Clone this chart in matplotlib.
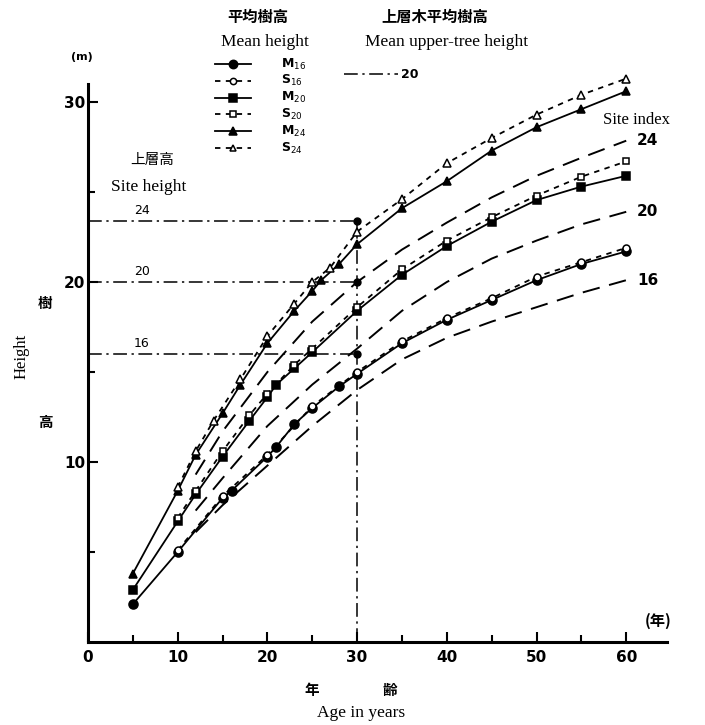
import matplotlib
matplotlib.use("Agg")
import matplotlib.pyplot as plt
from matplotlib.lines import Line2D

# mean height, M = measured, S = simulated (site 16 / 20 / 24)
m16_age = [5, 10, 15, 16, 20, 21, 23, 25, 28, 30, 35, 40, 45, 50, 55, 60]
m16_h = [2.1, 5.0, 8.0, 8.4, 10.3, 10.85, 12.1, 13.0, 14.2, 14.9, 16.6, 17.9, 19.0, 20.1, 21.0, 21.7]
s16_age = [10, 15, 20, 25, 30, 35, 40, 45, 50, 55, 60]
s16_h = [5.1, 8.1, 10.4, 13.1, 15.0, 16.7, 18.0, 19.1, 20.3, 21.1, 21.9]

m20_age = [5, 10, 12, 15, 18, 20, 21, 23, 25, 30, 35, 40, 45, 50, 55, 60]
m20_h = [2.9, 6.7, 8.2, 10.3, 12.3, 13.6, 14.3, 15.2, 16.1, 18.4, 20.4, 22.0, 23.35, 24.55, 25.3, 25.9]
s20_age = [10, 12, 15, 18, 20, 23, 25, 30, 35, 40, 45, 50, 55, 60]
s20_h = [6.9, 8.4, 10.6, 12.6, 13.8, 15.4, 16.3, 18.6, 20.7, 22.3, 23.6, 24.8, 25.85, 26.7]

m24_age = [5, 10, 12, 15, 17, 20, 23, 25, 26, 28, 30, 35, 40, 45, 50, 55, 60]
m24_h = [3.8, 8.4, 10.4, 12.7, 14.3, 16.6, 18.4, 19.5, 20.1, 21.0, 22.1, 24.1, 25.6, 27.3, 28.6, 29.6, 30.6]
s24_age = [10, 12, 14, 17, 20, 23, 25, 27, 30, 35, 40, 45, 50, 55, 60]
s24_h = [8.6, 10.6, 12.3, 14.6, 17.0, 18.8, 20.0, 20.8, 22.8, 24.6, 26.6, 28.0, 29.3, 30.4, 31.3]

# mean upper-tree height (site index curves)
si_age = [12, 15, 20, 25, 30, 35, 40, 45, 50, 55, 60]
si24_h = [9.3, 11.7, 15.0, 17.8, 20.0, 21.8, 23.3, 24.7, 25.9, 26.9, 27.85]
si20_h = [7.3, 9.1, 12.0, 14.3, 16.3, 18.4, 20.0, 21.3, 22.3, 23.2, 23.9]
si16_h = [6.1, 7.6, 9.8, 12.0, 14.0, 15.7, 16.9, 17.8, 18.6, 19.4, 20.1]
si_labels = ["24", "20", "16"]

# site height guide at age 30
guide_age = 30
guide_h = [23.4, 20.0, 16.0]
guide_labels = ["24", "20", "16"]

W, H = 705, 725
fig = plt.figure(figsize=(W / 100, H / 100), dpi=100)
ax = fig.add_axes([88 / W, 1 - 642 / H, 578.6 / W, 558 / H])


def px(x, y):
    return x / W, 1 - y / H


cjk = ["Noto Sans CJK JP", "DejaVu Sans"]
serif = "Liberation Serif"

solid = dict(color="black", lw=1.3, ls="-")
short = dict(color="black", lw=1.3, ls=(0, (3, 3)))
longd = dict(color="black", lw=1.4, ls=(0, (9, 5)))
dashdot = dict(color="black", lw=1.1, ls=(0, (9, 3, 1.5, 3)))

series = [
    (m16_age, m16_h, solid, "o", "black", 6.5),
    (s16_age, s16_h, short, "o", "white", 5),
    (m20_age, m20_h, solid, "s", "black", 6),
    (s20_age, s20_h, short, "s", "white", 5),
    (m24_age, m24_h, solid, "^", "black", 6),
    (s24_age, s24_h, short, "^", "white", 5.5),
]
for a, h, sty, mk, fc, ms in series:
    ax.plot(a, h, marker=mk, mfc=fc, mec="black", ms=ms, mew=1.1, zorder=3,
            clip_on=False, **sty)

for h in (si24_h, si20_h, si16_h):
    ax.plot(si_age, h, **longd)

# site height guides
for h in guide_h:
    ax.plot([0, guide_age], [h, h], **dashdot)
ax.plot([guide_age, guide_age], [0, max(guide_h)], **dashdot)
ax.plot([guide_age] * 3, guide_h, "o", color="black", ms=5, zorder=4)
for h, lab in zip(guide_h, guide_labels):
    ax.text(6, h + 0.2, lab, fontsize=9, ha="center", va="bottom")

ax.set_xlim(0, 64.5)
ax.set_ylim(0, 31)
for s in ("top", "right"):
    ax.spines[s].set_visible(False)
for s in ("left", "bottom"):
    ax.spines[s].set_linewidth(2.2)
ax.set_xticks(range(0, 61, 10))
ax.set_xticks(range(5, 61, 10), minor=True)
ax.set_yticks([10, 20, 30])
ax.set_yticks([5, 15, 25], minor=True)
ax.tick_params(which="both", direction="in", width=1.5, labelsize=11)
ax.tick_params(which="major", length=7)
ax.tick_params(which="minor", length=5)
ax.tick_params(axis="x", pad=6)
ax.tick_params(axis="y", pad=2)
for t in ax.get_xticklabels() + ax.get_yticklabels():
    t.set_fontweight("bold")

# site index labels on the right
ax.text(64.9, 29.0, "Site index", fontsize=12, family=serif, ha="right", va="center")
for h, lab in zip((si24_h, si20_h, si16_h), si_labels):
    ax.text(61.2, h[-1], lab, fontsize=11, fontweight="bold", ha="left", va="center")
ax.text(65, 1.2, "(年)", fontsize=11, family=cjk, ha="right", va="center", fontweight="bold")

# legend drawn by hand
fig.text(*px(258, 17), "平均樹高", family=cjk, fontsize=11, fontweight="bold", ha="center", va="center")
fig.text(*px(265, 42), "Mean height", family=serif, fontsize=12.5, ha="center", va="center")
fig.text(*px(435, 17), "上層木平均樹高", family=cjk, fontsize=11, fontweight="bold", ha="center", va="center")
fig.text(*px(447, 42), "Mean upper-tree height", family=serif, fontsize=12.5, ha="center", va="center")
leg_labels = ["M$_{16}$", "S$_{16}$", "M$_{20}$", "S$_{20}$", "M$_{24}$", "S$_{24}$"]
for i, ((a, h, sty, mk, fc, ms), lab) in enumerate(zip(series, leg_labels)):
    y = 64 + i * 16.8
    x0, y0 = px(215, y)
    x1, _ = px(251, y)
    fig.add_artist(Line2D([x0, x1], [y0, y0], **sty, transform=fig.transFigure))
    fig.add_artist(Line2D([(x0 + x1) / 2], [y0], marker=mk, mfc=fc, mec="black", ms=ms - 0.5,
                          mew=1.1, transform=fig.transFigure))
    fig.text(*px(281, y), lab, fontsize=9, fontweight="bold", ha="left", va="center")
x0, y0 = px(344, 74)
x1, _ = px(398, 74)
fig.add_artist(Line2D([x0, x1], [y0, y0], **dashdot, transform=fig.transFigure))
fig.text(*px(401, 74), "20", fontsize=9, fontweight="bold", ha="left", va="center")

fig.text(*px(82, 57), "(m)", fontsize=8, fontweight="bold", ha="center", va="center")
fig.text(*px(152, 160), "上層高", family=cjk, fontsize=10.5, ha="center", va="center")
fig.text(*px(149, 187), "Site height", family=serif, fontsize=12.5, ha="center", va="center")

# axis titles
fig.text(*px(45, 303), "樹", family=cjk, fontsize=10.5, fontweight="bold", ha="center", va="center")
fig.text(*px(22, 356), "Height", family=serif, fontsize=12, rotation=90, ha="center", va="center")
fig.text(*px(45, 422), "高", family=cjk, fontsize=10.5, fontweight="bold", ha="center", va="center")
fig.text(*px(312, 690), "年", family=cjk, fontsize=10.5, fontweight="bold", ha="center", va="center")
fig.text(*px(390, 690), "齢", family=cjk, fontsize=10.5, fontweight="bold", ha="center", va="center")
fig.text(*px(361, 713), "Age in years", family=serif, fontsize=12.5, ha="center", va="center")

fig.savefig("out.png", dpi=100)
